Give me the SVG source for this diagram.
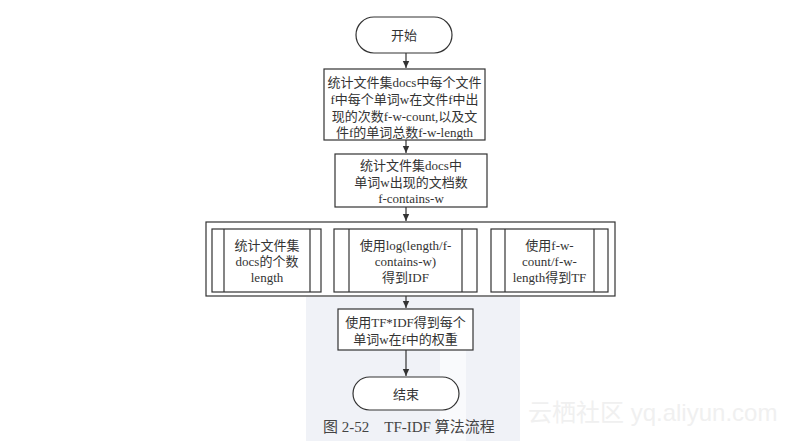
<svg xmlns="http://www.w3.org/2000/svg" width="804" height="441" viewBox="0 0 804 441">
<style>
.box{fill:#fff;stroke:#333;stroke-width:1.2}
.ln{fill:none;stroke:#333;stroke-width:1.2}
.t{font-family:"Liberation Serif","Noto Sans CJK SC",serif;font-size:13px;fill:#333;text-anchor:middle}
.cap{font-family:"Liberation Serif","Noto Sans CJK SC",serif;font-size:15px;fill:#444}
.wm{font-family:"Liberation Sans","Noto Sans CJK SC",sans-serif;font-size:24px;fill:#f0f0f0}
</style>
<defs>
<marker id="ah" markerWidth="8" markerHeight="8" refX="7" refY="4" orient="auto" markerUnits="userSpaceOnUse">
<path d="M0,0.8 L7,4 L0,7.2 Z" fill="#333"/>
</marker>
</defs>
<rect width="804" height="441" fill="#fff"/>
<g id="watermark">
<rect x="306" y="297" width="214" height="144" fill="#f0f2f7"/>
<rect x="440" y="326" width="26" height="115" fill="#f9fafc"/>
<text class="wm" x="528" y="421">云栖社区 yq.aliyun.com</text>
</g>
<g id="connectors">
<line class="ln" x1="406" y1="53" x2="406" y2="68" marker-end="url(#ah)"/>
<line class="ln" x1="406" y1="140" x2="406" y2="153" marker-end="url(#ah)"/>
<line class="ln" x1="406" y1="207" x2="406" y2="221" marker-end="url(#ah)"/>
<line class="ln" x1="406" y1="296" x2="406" y2="308" marker-end="url(#ah)"/>
<line class="ln" x1="406" y1="350" x2="406" y2="376" marker-end="url(#ah)"/>
</g>
<g id="start">
<rect class="box" x="356" y="17" width="96" height="36" rx="18"/>
<text class="t" x="404" y="40">开始</text>
</g>
<g id="step1">
<rect class="box" x="324" y="69" width="161" height="71"/>
<text class="t" x="404.5" y="87">统计文件集docs中每个文件</text>
<text class="t" x="404.5" y="104">f中每个单词w在文件f中出</text>
<text class="t" x="404.5" y="121">现的次数f-w-count,以及文</text>
<text class="t" x="404.5" y="137">件f的单词总数f-w-length</text>
</g>
<g id="step2">
<rect class="box" x="335" y="154" width="152" height="53"/>
<text class="t" x="411" y="170">统计文件集docs中</text>
<text class="t" x="411" y="187">单词w出现的文档数</text>
<text class="t" x="411" y="203">f-contains-w</text>
</g>
<g id="parallel">
<rect class="box" x="206" y="222" width="409" height="74"/>
</g>
<g id="sub1">
<rect class="box" x="212" y="229" width="109" height="63"/>
<line class="ln" x1="224" y1="229" x2="224" y2="292"/>
<line class="ln" x1="310" y1="229" x2="310" y2="292"/>
<text class="t" x="267" y="250">统计文件集</text>
<text class="t" x="267" y="266">docs的个数</text>
<text class="t" x="267" y="282">length</text>
</g>
<g id="sub2">
<rect class="box" x="334" y="229" width="143" height="63"/>
<line class="ln" x1="349" y1="229" x2="349" y2="292"/>
<line class="ln" x1="462" y1="229" x2="462" y2="292"/>
<text class="t" x="405.5" y="250">使用log(length/f-</text>
<text class="t" x="405.5" y="266">contains-w)</text>
<text class="t" x="405.5" y="282">得到IDF</text>
</g>
<g id="sub3">
<rect class="box" x="491" y="229" width="117" height="63"/>
<line class="ln" x1="505" y1="229" x2="505" y2="292"/>
<line class="ln" x1="594" y1="229" x2="594" y2="292"/>
<text class="t" x="549.5" y="250">使用f-w-</text>
<text class="t" x="549.5" y="266">count/f-w-</text>
<text class="t" x="549.5" y="282">length得到TF</text>
</g>
<g id="step3">
<rect class="box" x="338" y="309" width="135" height="41"/>
<text class="t" x="405.5" y="327">使用TF*IDF得到每个</text>
<text class="t" x="405.5" y="344">单词w在f中的权重</text>
</g>
<g id="end">
<rect class="box" x="353" y="377" width="106" height="33" rx="16.5"/>
<text class="t" x="406" y="399">结束</text>
</g>
<text class="cap" x="323" y="432" xml:space="preserve">图 2-52    TF-IDF 算法流程</text>
</svg>
